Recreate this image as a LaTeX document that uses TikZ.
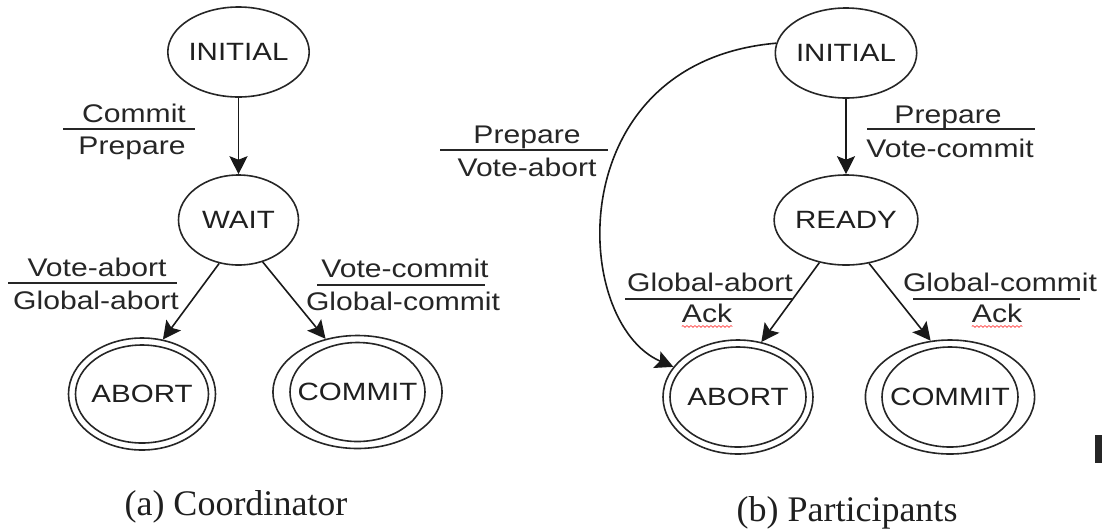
\documentclass[tikz,border=0pt]{standalone}
\usepackage{fontspec}
\setmainfont{Liberation Serif}
\newfontfamily\diagfont[FakeStretch=1.18]{Liberation Sans}
\usetikzlibrary{shapes.geometric,arrows.meta,decorations.pathmorphing}

\begin{document}
\begin{tikzpicture}[x=1pt,y=-1pt,
  state/.style={draw=black!85, ellipse, line width=1.6pt, inner sep=0pt,
    font=\diagfont\fontsize{25}{26}\selectfont, text=black!88},
  lbl/.style={anchor=base, inner sep=0pt,
    font=\diagfont\fontsize{25.5}{27}\selectfont, text=black!85},
  bar/.style={draw=black!85, line width=1.6pt},
  ring/.style={draw=black!85, line width=1.6pt},
  arr/.style={draw=black!90, line width=1.6pt,
    -{Stealth[length=18pt,width=18pt,inset=3.5pt]}},
  squiggle/.style={draw=red!75, line width=0.7pt, decorate,
    decoration={snake, amplitude=0.9pt, segment length=4pt}},
  caption/.style={inner sep=0pt, text=black!88,
    font=\fontsize{36}{38}\selectfont}
]
\useasboundingbox (0,0) rectangle (1102,531);

% ---------- (a) coordinator ----------
\node[state, minimum width=120pt, minimum height=90pt] (initA) at (238.5,52) {INITIAL};
\node[state, minimum width=120pt, minimum height=90pt] (waitA) at (238.5,220) {WAIT};
\node[state, minimum width=147pt, minimum height=112pt] (abortA) at (142,394) {ABORT};
\node[state, minimum width=149pt, minimum height=113pt] (commitA) at (357.5,392) {COMMIT};
\draw[ring] (abortA.center) ellipse [x radius=66.5pt, y radius=49pt];
\draw[ring] (commitA.center) ellipse [x radius=67.5pt, y radius=49.5pt];

\draw[arr] (initA) -- (waitA);
\draw[arr] (waitA.246) -- (abortA.69);
\draw[arr] (waitA.300) -- (commitA.121);

\node[lbl] (a1top) at (134,122) {Commit};
\draw[bar] (63,129) -- (195,129);
\node[lbl] (a1bot) at (132,154) {Prepare};

\node[lbl] (a2top) at (97,276) {Vote-abort};
\draw[bar] (8,283) -- (177,283);
\node[lbl] (a2bot) at (96,309) {Global-abort};

\node[lbl] (a3top) at (405,277) {Vote-commit};
\draw[bar] (317,285) -- (485,285);
\node[lbl] (a3bot) at (403,310) {Global-commit};

\node[caption] (capA) at (236,507) {(a) Coordinator};

% ---------- (b) participants ----------
\node[state, minimum width=116pt, minimum height=90pt] (initB) at (846,53) {INITIAL};
\node[state, minimum width=116pt, minimum height=90pt] (readyB) at (846,220) {READY};
\node[state, minimum width=150pt, minimum height=114pt] (abortB) at (738,397) {ABORT};
\node[state, minimum width=150pt, minimum height=114pt] (commitB) at (950,397) {COMMIT};
\draw[ring] (abortB.center) ellipse [x radius=68pt, y radius=50pt];
\draw[ring] (commitB.center) ellipse [x radius=68pt, y radius=50pt];

\draw[arr] (initB) -- (readyB);
\draw[arr] (readyB.238) -- (abortB.67);
\draw[arr] (readyB.298) -- (commitB.109);
\draw[arr] (initB.172) .. controls (560,62) and (570,322) .. (abortB.155);

\node[lbl] (b1top) at (527,143) {Prepare};
\draw[bar] (440,150) -- (608,150);
\node[lbl] (b1bot) at (527,176) {Vote-abort};

\node[lbl] (b2top) at (948,123) {Prepare};
\draw[bar] (867,129) -- (1035,129);
\node[lbl] (b2bot) at (950,157) {Vote-commit};

\node[lbl] (b3top) at (710,291) {Global-abort};
\draw[bar] (625,299) -- (792,299);
\node[lbl] (b3bot) at (707,322) {Ack};
\draw[squiggle] ([yshift=-4pt]b3bot.south west) -- ([yshift=-4pt]b3bot.south east);

\node[lbl] (b4top) at (1000,291) {Global-commit};
\draw[bar] (913,299) -- (1080,299);
\node[lbl] (b4bot) at (997,322) {Ack};
\draw[squiggle] ([yshift=-4pt]b4bot.south west) -- ([yshift=-4pt]b4bot.south east);

\node[caption] (capB) at (847,513) {(b) Participants};

% small dark mark at the right margin
\fill[black!85] (1095,435) rectangle (1102,463);
\end{tikzpicture}
\end{document}
